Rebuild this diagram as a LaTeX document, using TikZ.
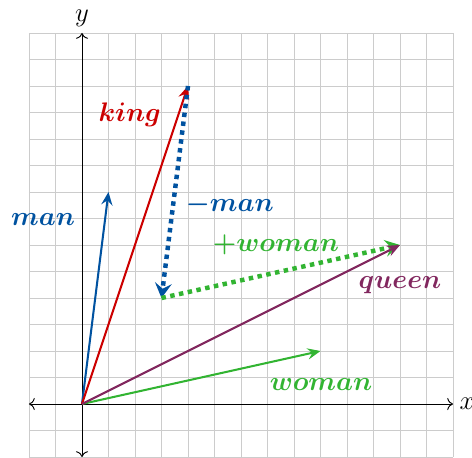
\documentclass[tikz,border=0pt]{standalone}
\usepackage{amsmath}
\usepackage{bm}
\usetikzlibrary{arrows.meta}
\definecolor{vblue}{RGB}{0,82,160}
\definecolor{vred}{RGB}{204,0,0}
\definecolor{vpurple}{RGB}{130,40,95}
\definecolor{vgreen}{RGB}{50,180,50}
\tikzset{
  vec/.style={line width=1.1pt,-{Stealth[length=7pt,width=6pt,inset=2.5pt]}},
  dotvec/.style={line width=2.4pt,dash pattern=on 2.4pt off 2.4pt,-{Stealth[length=8pt,width=9pt,inset=3pt]}},
  axis/.style={line width=0.5pt,{To[scale=1.15]}-{To[scale=1.15]}},
  lbl/.style={font=\Large}
}
\begin{document}
\begin{tikzpicture}[x=0.5cm,y=0.5cm]
\useasboundingbox (-3.094,-2.0) rectangle (14.717,15.245);
\draw[line width=0.5pt,black!20,step=1] (-2,-2) grid (14,14);
\draw[axis] (-2,0) -- (14,0) node[right,font=\Large] (xl) {$x$};
\draw[axis] (0,-2) -- (0,14) node[above,font=\Large] (yl) {$y$};
\coordinate (O) at (0,0);
\coordinate (M) at (1,8);
\coordinate (K) at (4,12);
\coordinate (KM) at (3,4);
\coordinate (W) at (9,2);
\coordinate (Q) at (12,6);
\draw[vec,vgreen] (O) -- (W);
\draw[vec,vblue] (O) -- (M);
\draw[vec,vred] (O) -- (K);
\draw[dotvec,vblue] (K) -- (KM);
\draw[dotvec,vgreen] (KM) -- (Q);
\draw[vec,vpurple] (O) -- (Q);
\node[lbl,vblue] (lman) at (-1.47,6.95) {$\bm{man}$};
\node[lbl,vred] (lking) at (1.8,10.9) {$\bm{king}$};
\node[lbl,vblue] (lmman) at (5.58,7.5) {$\bm{-man}$};
\node[lbl,vgreen] (lpw) at (7.32,6.0) {$\bm{+woman}$};
\node[lbl,vpurple] (lq) at (12.0,4.5) {$\bm{queen}$};
\node[lbl,vgreen] (lw) at (9.02,0.75) {$\bm{woman}$};
\end{tikzpicture}
\end{document}
